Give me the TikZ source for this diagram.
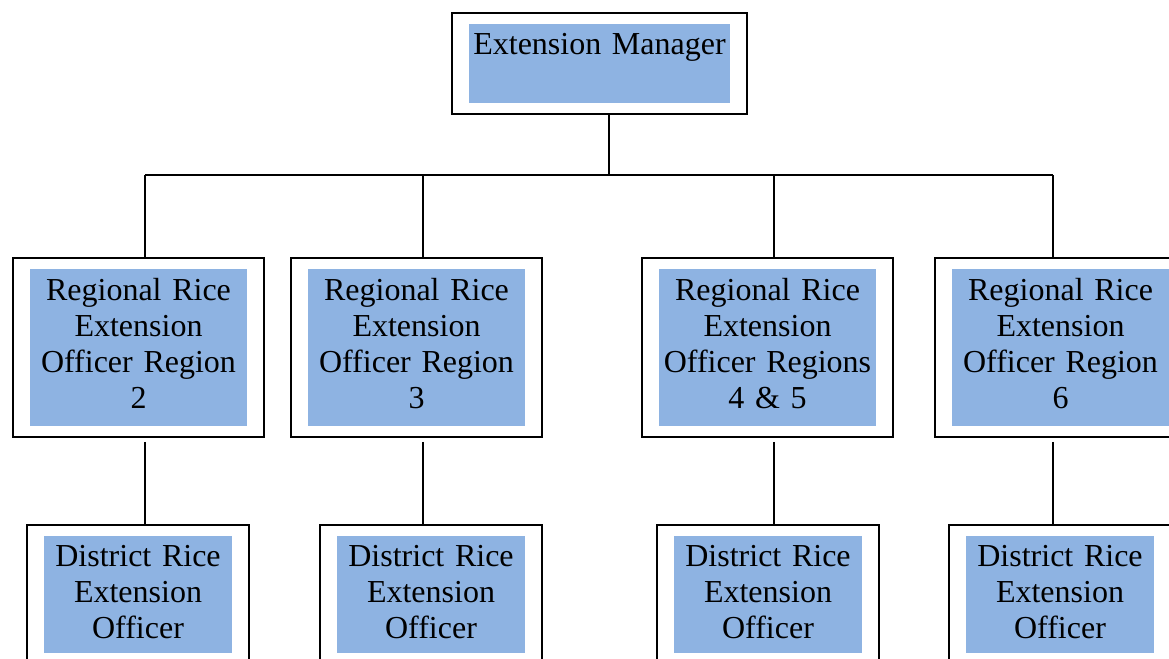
\documentclass[tikz,border=0pt]{standalone}
\usepackage{fontspec}
\setmainfont{Liberation Serif}
\usetikzlibrary{fit}
\definecolor{unitblue}{RGB}{142,179,226}
\tikzset{
  unit/.style={fill=unitblue, inner sep=0pt, align=center, font=\fontsize{24}{27}\selectfont},
  regional/.style={unit, text width=162.75pt, text depth=87pt, minimum height=117.75pt},
  district/.style={unit, text width=141pt, text depth=58.5pt, minimum height=87.75pt},
  frame/.style={draw, line width=1.4pt, inner xsep=12.4pt, inner ysep=7.9pt, outer sep=0pt},
  link/.style={line width=1.4pt}
}
\begin{document}
\begin{tikzpicture}[line join=miter, x=0.75pt, y=-0.75pt]
  \useasboundingbox (0,0) rectangle (1169,658);
  \clip (0,0) rectangle (1169,658);
  % manager
  \node[unit, text width=195.75pt, text height=22.5pt, text depth=36.75pt] (mgr) at (599.5,63.5) {Extension Manager};
  \node[frame, fit=(mgr)] (mgrbox) {};
  % regional officers
  \node[regional] (reg2) at (138.5,347.5) {Regional Rice\\Extension\\Officer Region\\2};
  \node[regional] (reg3) at (416.5,347.5) {Regional Rice\\Extension\\Officer Region\\3};
  \node[regional] (reg45) at (767.5,347.5) {Regional Rice\\Extension\\Officer Regions\\4 \& 5};
  \node[regional] (reg6) at (1060.5,347.5) {Regional Rice\\Extension\\Officer Region\\6};
  % district officers
  \node[district] (dist2) at (138,594.5) {District Rice\\Extension\\Officer};
  \node[district] (dist3) at (431,594.5) {District Rice\\Extension\\Officer};
  \node[district] (dist45) at (768,594.5) {District Rice\\Extension\\Officer};
  \node[district] (dist6) at (1060,594.5) {District Rice\\Extension\\Officer};
  \foreach \n in {2,3,45,6} {
    \node[frame, fit=(reg\n)] (regbox\n) {};
    \node[frame, fit=(dist\n)] (distbox\n) {};
  }
  % connectors
  \coordinate (bus) at (609,175);
  \draw[link] (mgrbox.south -| bus) -- (bus);
  \foreach \n/\x in {2/145,3/423,45/774,6/1053} {
    \coordinate (drop\n) at (\x,175);
    \draw[link] (drop\n) -- (drop\n |- regbox\n.north);
    \draw[link, shorten <=3.75pt] (drop\n |- regbox\n.south) -- (drop\n |- distbox\n.north);
  }
  \draw[link] (drop2) -- (drop6);
\end{tikzpicture}
\end{document}
